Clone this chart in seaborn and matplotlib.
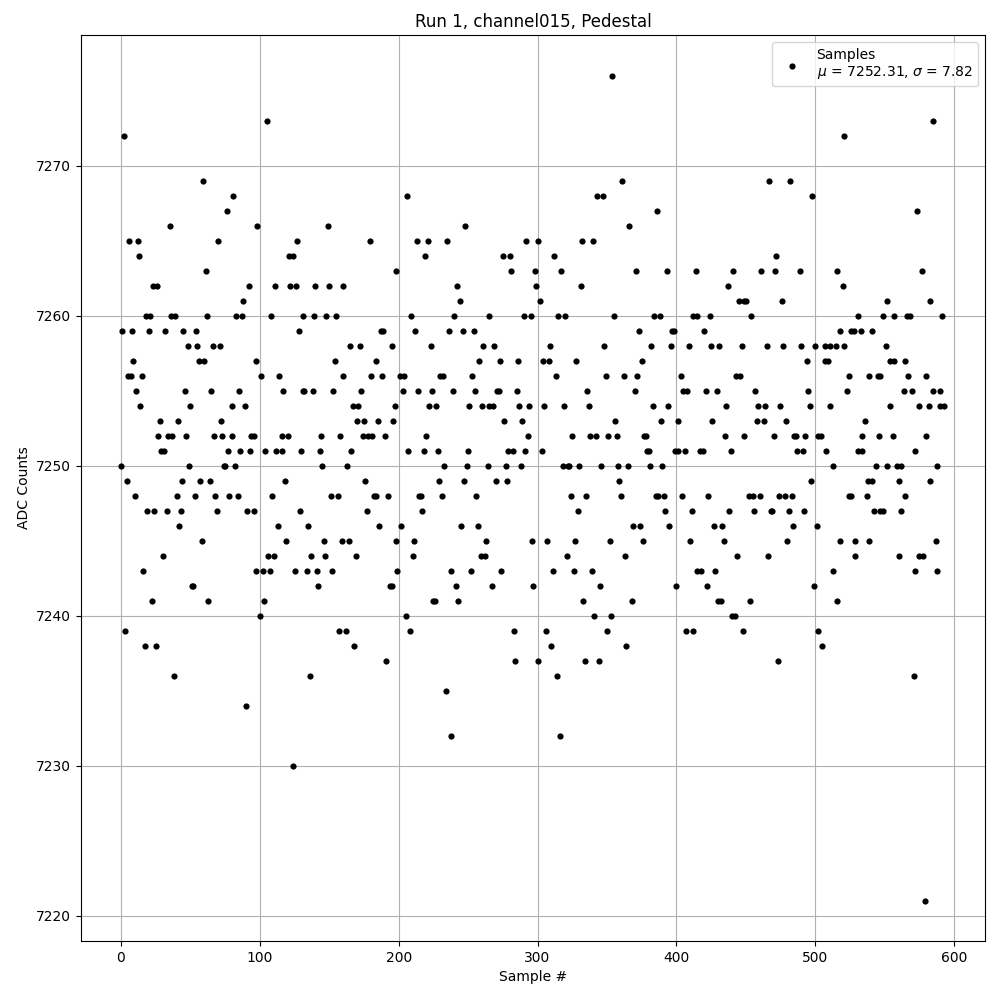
import matplotlib
matplotlib.use("Agg")
import matplotlib.pyplot as plt
import seaborn as sns
import pandas as pd

# ADC count levels and the sample numbers read at each level
adc_levels = [7276, 7273, 7272, 7269, 7268, 7267, 7266, 7265, 7264, 7263,
              7262, 7261, 7260, 7259, 7258, 7257, 7256, 7255, 7254, 7253,
              7252, 7251, 7250, 7249, 7248, 7247, 7246, 7245, 7244, 7243,
              7242, 7241, 7240, 7239, 7238, 7237, 7236, 7235, 7234, 7232,
              7230, 7221]

samples_at_level = [
    [354],
    [105, 585],
    [2, 521],
    [59, 361, 467, 482],
    [81, 206, 343, 347, 498],
    [76, 386, 573],
    [35, 98, 149, 248, 366],
    [6, 12, 70, 127, 179, 213, 221, 235, 292, 300, 332, 340],
    [13, 121, 124, 219, 275, 280, 312, 472],
    [61, 198, 281, 298, 317, 371, 393, 414, 441, 461, 471, 489, 516, 577],
    [23, 26, 92, 111, 122, 126, 140, 150, 160, 242, 299, 331, 437, 520],
    [88, 244, 302, 445, 449, 450, 476, 552, 583],
    [18, 21, 36, 39, 62, 83, 87, 108, 131, 139, 148, 155, 209, 240, 265, 290,
     295, 315, 320, 355, 384, 388, 412, 415, 424, 454, 531, 549, 557, 566,
     568, 591],
    [1, 8, 20, 32, 45, 54, 128, 187, 189, 212, 236, 246, 254, 373, 397, 398,
     420, 518, 526, 528, 533, 541],
    [48, 55, 66, 71, 165, 172, 195, 223, 261, 269, 309, 348, 382, 396, 409,
     425, 431, 447, 465, 477, 490, 500, 507, 511, 515, 521, 551],
    [9, 56, 60, 97, 154, 184, 258, 273, 286, 304, 308, 328, 375, 494, 507,
     509, 554, 557, 565],
    [5, 7, 15, 101, 114, 160, 180, 188, 201, 204, 230, 232, 253, 313, 349,
     362, 372, 403, 443, 446, 524, 539, 545, 547, 567, 580],
    [11, 46, 65, 85, 117, 131, 132, 138, 153, 173, 203, 214, 224, 239, 255,
     271, 272, 285, 336, 370, 405, 408, 421, 429, 457, 495, 523, 564, 570,
     585, 590],
    [14, 50, 80, 89, 167, 171, 197, 222, 227, 251, 260, 265, 268, 287, 294,
     305, 319, 337, 383, 394, 436, 459, 464, 475, 496, 511, 554, 575, 582,
     590, 593],
    [28, 41, 72, 170, 175, 185, 196, 276, 289, 356, 389, 401, 426, 458, 463,
     479, 536],
    [27, 34, 37, 47, 67, 73, 80, 94, 96, 116, 120, 144, 158, 174, 178, 181,
     190, 220, 293, 325, 338, 342, 351, 357, 377, 378, 435, 449, 470, 485,
     486, 493, 502, 504, 534, 546, 556, 580],
    [29, 31, 77, 86, 93, 104, 112, 116, 130, 143, 166, 207, 218, 228, 250,
     279, 282, 291, 303, 379, 380, 399, 401, 406, 417, 419, 439, 487, 491,
     508, 531, 534, 572],
    [0, 49, 74, 75, 82, 145, 163, 233, 249, 264, 277, 288, 318, 322, 323, 330,
     346, 358, 365, 381, 390, 513, 544, 552, 559, 562, 588],
    [4, 44, 57, 64, 118, 176, 229, 247, 270, 278, 359, 497, 538, 541, 560,
     583],
    [10, 40, 53, 68, 78, 84, 109, 151, 156, 182, 184, 192, 215, 216, 231, 256,
     324, 335, 360, 385, 387, 391, 404, 423, 452, 455, 460, 474, 478, 483,
     524, 526, 537, 565],
    [19, 24, 33, 43, 69, 91, 96, 129, 177, 217, 329, 392, 411, 438, 456, 468,
     469, 481, 492, 542, 547, 549, 562],
    [42, 113, 135, 186, 202, 245, 257, 369, 374, 395, 427, 433, 484, 501],
    [58, 119, 146, 159, 164, 198, 211, 263, 296, 307, 327, 352, 376, 410, 434,
     480, 518, 529, 539, 587],
    [30, 106, 110, 137, 147, 169, 210, 259, 262, 321, 363, 444, 466, 529, 560,
     575, 578],
    [16, 97, 102, 107, 125, 134, 141, 152, 199, 238, 252, 274, 311, 326, 339,
     415, 418, 428, 513, 572, 588],
    [51, 52, 142, 194, 195, 241, 267, 297, 345, 400, 422, 499],
    [22, 63, 103, 225, 226, 243, 333, 368, 430, 432, 453, 516],
    [100, 205, 341, 353, 440, 442],
    [3, 157, 162, 208, 283, 306, 350, 407, 412, 448, 502],
    [17, 25, 168, 310, 364, 505],
    [191, 284, 300, 334, 344, 473],
    [38, 136, 314, 571],
    [234],
    [90],
    [238, 316],
    [124],
    [579],
]

title_text = "Run 1, channel015, Pedestal"
x_label = "Sample #"
y_label = "ADC Counts"
legend_label = "Samples\n$\\mu$ = 7252.31, $\\sigma$ = 7.82"

rows = []
for level, samples in zip(adc_levels, samples_at_level):
    for s in samples:
        rows.append({"sample": s, "adc": level})
df = pd.DataFrame(rows).sort_values("sample")

fig, ax = plt.subplots(figsize=(10, 10), dpi=100)
fig.subplots_adjust(left=0.081, right=0.985, bottom=0.059, top=0.965)

sns.scatterplot(data=df, x="sample", y="adc", ax=ax, color="black",
                s=20, linewidth=0, marker="o", label=legend_label)

ax.set_title(title_text)
ax.set_xlabel(x_label)
ax.set_ylabel(y_label)
ax.grid(True, color="#b0b0b0", linewidth=0.8)
ax.set_axisbelow(True)
ax.set_xticks([0, 100, 200, 300, 400, 500, 600])
ax.set_yticks([7220, 7230, 7240, 7250, 7260, 7270])
ax.set_xlim(-28.8, 622.3)
ax.set_ylim(7218.3, 7278.7)
ax.legend(loc="upper right", markerscale=1.0)

fig.savefig("out.png", dpi=100)
